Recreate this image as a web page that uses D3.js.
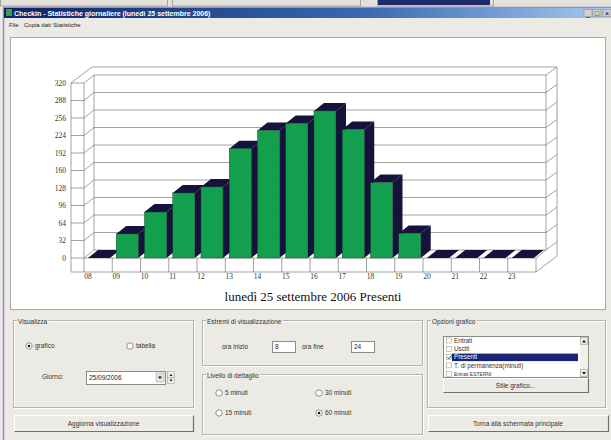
<!DOCTYPE html>
<html><head><meta charset="utf-8">
<script src="https://cdn.jsdelivr.net/npm/d3@7/dist/d3.min.js"></script>
<style>body{margin:0;background:#ebeae4;overflow:hidden}svg{display:block}</style>
</head><body>
<svg id="c" width="611" height="440"></svg>
<script>
// ---- data ----
const categories = ["08","09","10","11","12","13","14","15","16","17","18","19","20","21","22","23"];
const presenti = [0,44,84,119,130,200,233,246,269,235,138,45,0,0,0,0];
const yTicks = [0,32,64,96,128,160,192,224,256,288,320];
const chartTitle = "lunedì 25 settembre 2006 Presenti";
const windowTitle = "Checkin - Statistiche giornaliere (lunedì 25 settembre 2006)";
const menuItems = ["File","Copia dati","Statistiche"];
const listItems = ["Entrati","Usciti","Presenti","T. di permanenza(minuti)","Entrati ESTERNI"];

const svg = d3.select("#c");
const UI = "Liberation Sans, Arial, sans-serif";
const GRID = "#8a8a8a";

// ---- window chrome ----
svg.append("rect").attr("x",0).attr("y",0).attr("width",611).attr("height",440).attr("fill","#ebeae4");
svg.append("rect").attr("x",0).attr("y",0).attr("width",611).attr("height",7).attr("fill","#e2e1da");
[[0,167],[172,360],[377,493]].forEach(([a,b])=>{
  svg.append("rect").attr("x",a+0.5).attr("y",-2).attr("width",b-a).attr("height",8).attr("fill","none").attr("stroke","#a4a4a0");
});
svg.append("rect").attr("x",378).attr("y",0).attr("width",112).attr("height",5).attr("fill","#1f2a6a");
svg.append("path").attr("d","M3.5,440 V7.5 H611").attr("fill","none").attr("stroke","#9f88c8").attr("stroke-width",1.5);
const g = svg.append("defs").append("linearGradient").attr("id","tb");
g.append("stop").attr("offset","0").attr("stop-color","#0a246a");
g.append("stop").attr("offset","0.6").attr("stop-color","#3a6ab0");
g.append("stop").attr("offset","1").attr("stop-color","#a6caf0");
svg.append("rect").attr("x",4).attr("y",8).attr("width",607).attr("height",10).attr("fill","url(#tb)");
svg.append("rect").attr("x",6).attr("y",9).attr("width",6).attr("height",7).attr("fill","#3aa04a");
svg.append("text").attr("x",14).attr("y",15.8).attr("fill","#fff").attr("font-family",UI).attr("font-size",7).attr("font-weight","bold").text(windowTitle);
[["_",584],["□",593],["×",603]].forEach(([s,x])=>{
  svg.append("rect").attr("x",x).attr("y",9.5).attr("width",8).attr("height",7).attr("fill","#d4d0c8").attr("stroke","#888").attr("stroke-width",0.5);
  svg.append("text").attr("x",x+4).attr("y",15.5).attr("text-anchor","middle").attr("font-family",UI).attr("font-size",7).attr("fill","#000").text(s);
});
const menuX = [9,24,53];
menuItems.forEach((m,i)=>{
  svg.append("text").attr("x",menuX[i]).attr("y",27).attr("font-family",UI).attr("font-size",6).attr("fill","#222").text(m);
});
svg.append("rect").attr("x",10.5).attr("y",37.5).attr("width",595).attr("height",272).attr("fill","#fff").attr("stroke","#a8a8a4");

// ---- chart ----
const x = d3.scaleBand().domain(categories).range([84,536]).padding(0);
const y = d3.scaleLinear().domain([0,320]).range([258,83]);
const bw = x.bandwidth();
const D = [10,-8];
const T = [11,-8];
const y0 = y(0), yTop = y(320);
const xL = 84, xR = 536, xOut = 71, yBot = 272;
const ch = svg.append("g").attr("fill","none").attr("stroke",GRID).attr("stroke-width",0.8);
const line = (pts)=>ch.append("path").attr("d","M"+pts.map(p=>p.join(",")).join("L"));

yTicks.forEach(t=>{
  const yy = y(t);
  line([[xOut,yy],[xL,yy],[xL+D[0],yy+D[1]],[xR+D[0],yy+D[1]],[xR+D[0]+T[0],yy+D[1]+T[1]]]);
});
line([[xOut,yTop],[xOut+D[0]+T[0],yTop+D[1]+T[1]],[xR+D[0]+T[0],yTop+D[1]+T[1]],[xR+D[0]+T[0],yBot+D[1]+T[1]],[xR,yBot]]);
line([[xOut,yTop],[xOut,yBot],[xR,yBot],[xR,y0]]);
line([[xL,yTop],[xL,y0],[xR,y0],[xR+D[0],y0+D[1]]]);
line([[xL+D[0],yTop+D[1]],[xL+D[0],y0+D[1]]]);
line([[xR+D[0],yTop+D[1]],[xR+D[0],y0+D[1]]]);
categories.forEach(c=>{ line([[x(c),y0],[x(c),yBot]]); });

const GREEN = "#12a04e", DARK = "#15133c";
const bars = svg.append("g");
categories.forEach((c,i)=>{
  const v = presenti[i];
  const bx = x(c) + bw*0.14, w = bw*0.78, top = y(v);
  const gb = bars.append("g");
  gb.append("path").attr("d",`M${bx+w},${top}L${bx+w+D[0]},${top+D[1]}L${bx+w+D[0]},${y0+D[1]}L${bx+w},${y0}Z`).attr("fill",DARK);
  gb.append("path").attr("d",`M${bx},${top}L${bx+D[0]},${top+D[1]}L${bx+w+D[0]},${top+D[1]}L${bx+w},${top}Z`).attr("fill",DARK);
  if (v>0) gb.append("rect").attr("x",bx).attr("y",top).attr("width",w).attr("height",y0-top).attr("fill",GREEN).attr("stroke","#0a3a22").attr("stroke-width",0.4);
});

const ya = svg.append("g").attr("transform","translate(66,0)")
  .call(d3.axisLeft(y).tickValues(yTicks).tickSize(0).tickPadding(0));
ya.select(".domain").remove();
ya.selectAll("text").attr("font-family","Liberation Serif, serif").attr("font-size",7.5).attr("fill","#333");
const xa = svg.append("g").attr("transform",`translate(${-bw/2+4},274)`)
  .call(d3.axisBottom(x).tickSize(0).tickPadding(0));
xa.select(".domain").remove();
xa.selectAll("text").attr("font-family","Liberation Serif, serif").attr("font-size",7.5).attr("fill","#333");

svg.append("text").attr("x",313).attr("y",301).attr("text-anchor","middle")
  .attr("font-family","Liberation Serif, Times New Roman, serif").attr("font-size",13).attr("fill","#111").text(chartTitle);

// ---- controls ----
function txt(s,xx,yy,opt={},parent=svg){
  return parent.append("text").attr("x",xx).attr("y",yy).attr("font-family",UI).attr("font-size",opt.size||6.5)
    .attr("fill",opt.fill||"#333").attr("text-anchor",opt.anchor||"start").text(s);
}
function group(x0,y0,w,h,label){
  const gg = svg.append("g");
  gg.append("rect").attr("x",x0+1.5).attr("y",y0+1.5).attr("width",w).attr("height",h).attr("fill","none").attr("stroke","#fff");
  gg.append("rect").attr("x",x0+0.5).attr("y",y0+0.5).attr("width",w).attr("height",h).attr("fill","none").attr("stroke","#b4b3ad");
  const bg = gg.append("rect").attr("y",y0-1).attr("height",4).attr("fill","#ebeae4");
  const t = txt(label,x0+5,y0+3.5,{},gg);
  const bb = t.node().getBBox();
  bg.attr("x",bb.x-1).attr("width",bb.width+2);
}
function button(x0,y0,w,h,label){
  svg.append("rect").attr("x",x0+0.5).attr("y",y0+0.5).attr("width",w).attr("height",h).attr("fill","#ecebe6").attr("stroke","#fff");
  svg.append("path").attr("d",`M${x0+0.5},${y0+h+0.5}H${x0+w+0.5}V${y0+0.5}`).attr("fill","none").attr("stroke","#6f6f6b").attr("stroke-width",1.2);
  txt(label,x0+w/2,y0+h/2+2.5,{anchor:"middle"});
}
function radio(cx,cy,label,on){
  svg.append("circle").attr("cx",cx).attr("cy",cy).attr("r",3.2).attr("fill","#fff").attr("stroke","#777").attr("stroke-width",0.8);
  if(on) svg.append("circle").attr("cx",cx).attr("cy",cy).attr("r",1.3).attr("fill","#111");
  txt(label,cx+6,cy+2.3);
}
function field(x0,y0,w,h,val){
  svg.append("rect").attr("x",x0+0.5).attr("y",y0+0.5).attr("width",w).attr("height",h).attr("fill","#fff").attr("stroke","#8a8a86");
  txt(val,x0+3,y0+h/2+2.4,{fill:"#222"});
}

group(13,320,180,87,"Visualizza");
radio(29,346,"grafico",true);
radio(130,346,"tabella",false);
txt("Giorno:",42,379);
field(86,371,79,13,"25/09/2006");
svg.append("rect").attr("x",156).attr("y",373).attr("width",8).attr("height",9).attr("fill","#e4e3de").attr("stroke","#999").attr("stroke-width",0.5);
svg.append("path").attr("d","M158,376.5h4l-2,2.5z").attr("fill","#111");
svg.append("rect").attr("x",167.5).attr("y",371.5).attr("width",7).attr("height",6).attr("fill","#ecebe6").attr("stroke","#999").attr("stroke-width",0.5);
svg.append("rect").attr("x",167.5).attr("y",377.5).attr("width",7).attr("height",6).attr("fill","#ecebe6").attr("stroke","#999").attr("stroke-width",0.5);
svg.append("path").attr("d","M169.5,376l1.5,-2l1.5,2z M169.5,379.5l1.5,2l1.5,-2z").attr("fill","#111");
button(14,415,179,16,"Aggiorna visualizzazione");

group(202,320,220,45,"Estremi di visualizzazione");
txt("ora inizio",222,349);
field(272,341,23,11,"8");
txt("ora fine",302,349);
field(351,341,23,11,"24");

group(202,374,220,60,"Livello di dettaglio");
radio(219,393,"5 minuti",false);
radio(319,393,"30 minuti",false);
radio(219,413,"15 minuti",false);
radio(319,413,"60 minuti",true);

group(427,320,178,87,"Opzioni grafico");
svg.append("rect").attr("x",443.5).attr("y",336.5).attr("width",145).attr("height",41).attr("fill","#fff").attr("stroke","#8a8a86");
svg.append("clipPath").attr("id","lc").append("rect").attr("x",444).attr("y",337).attr("width",135).attr("height",40);
const lg = svg.append("g").attr("clip-path","url(#lc)");
listItems.forEach((s,i)=>{
  const yy = 340.5 + i*8.3;
  if (i===2) lg.append("rect").attr("x",452).attr("y",yy-3.5).attr("width",126).attr("height",7.5).attr("fill","#1a2470");
  lg.append("rect").attr("x",446.5).attr("y",yy-2.5).attr("width",5).attr("height",5).attr("fill","#fff").attr("stroke","#8a8a8a").attr("stroke-width",0.5);
  if (i===2) lg.append("path").attr("d",`M447.5,${yy}l1.5,1.5l2.5,-3`).attr("fill","none").attr("stroke","#111").attr("stroke-width",0.8);
  lg.append("text").attr("x",454).attr("y",yy+2.3).attr("font-family",UI).attr("font-size",i===4?5:6.3).attr("fill",i===2?"#fff":"#333").text(s);
});
svg.append("rect").attr("x",580).attr("y",337).attr("width",8).attr("height",40).attr("fill","#f1f0ec");
svg.append("rect").attr("x",580.5).attr("y",337.5).attr("width",7).attr("height",7).attr("fill","#ecebe6").attr("stroke","#888").attr("stroke-width",0.5);
svg.append("rect").attr("x",580.5).attr("y",369.5).attr("width",7).attr("height",7).attr("fill","#ecebe6").attr("stroke","#888").attr("stroke-width",0.5);
svg.append("path").attr("d","M582,342.5l2,-2.5l2,2.5z M582,372l2,2.5l2,-2.5z").attr("fill","#111");
button(443,378,145,14,"Stile grafico...");
button(428,415,180,16,"Torna alla schermata principale");
</script>
</body></html>
